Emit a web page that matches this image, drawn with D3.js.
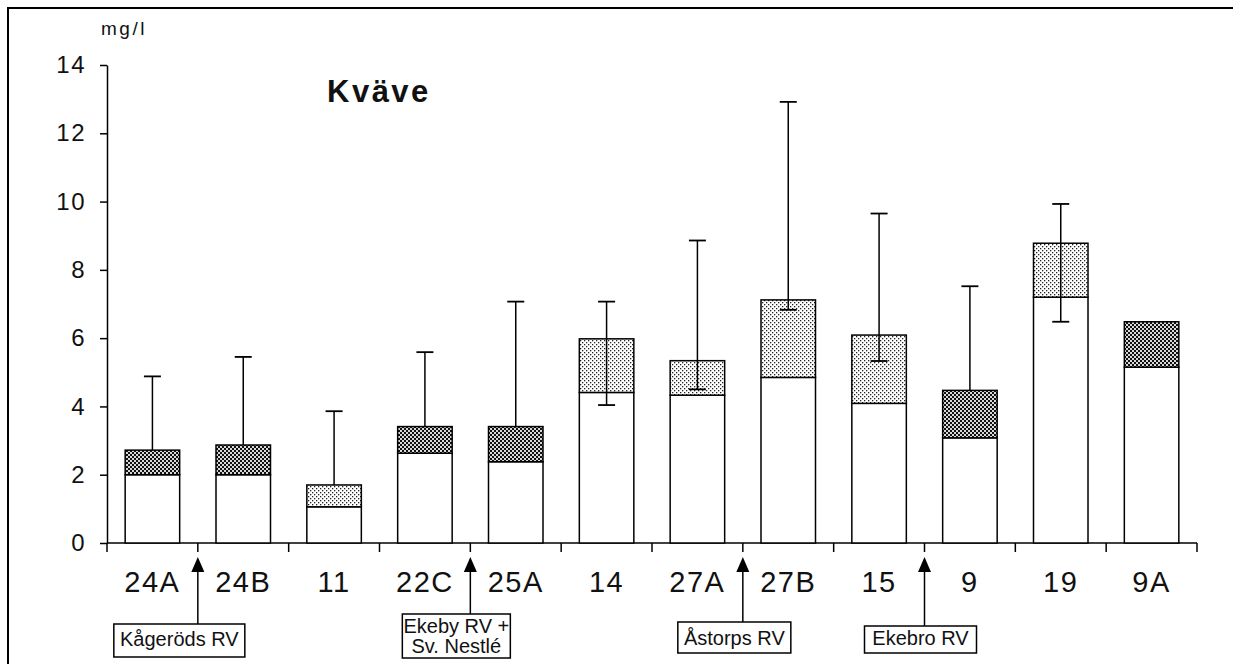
<!DOCTYPE html>
<html>
<head>
<meta charset="utf-8">
<script src="https://cdn.jsdelivr.net/npm/d3@7/dist/d3.min.js"></script>
<style>
  html, body { margin: 0; padding: 0; background: #fff; }
  svg { display: block; font-family: "Liberation Sans", Arial, Helvetica, sans-serif; }
</style>
</head>
<body>
<svg id="chart" width="1233" height="664"></svg>
<script>
// ---- data ----
const categories = ["24A", "24B", "11", "22C", "25A", "14", "27A", "27B", "15", "9", "19", "9A"];
const baseValues = [2.0, 2.0, 1.06, 2.63, 2.38, 4.41, 4.33, 4.85, 4.09, 3.08, 7.2, 5.15];
const darkValues = [0.72, 0.87, 0, 0.78, 1.03, 0, 0, 0, 0, 1.39, 0, 1.33];
const lightValues = [0, 0, 0.64, 0, 0, 1.57, 1.01, 2.27, 2.0, 0, 1.58, 0];
const errHigh = [4.88, 5.45, 3.86, 5.59, 7.07, 7.07, 8.86, 12.92, 9.65, 7.52, 9.93, null];
const errLow = [null, null, null, null, null, 4.04, 4.5, 6.83, 5.33, null, 6.48, null];
const yTicks = [0, 2, 4, 6, 8, 10, 12, 14];
const annotationLabels = ["Kågeröds RV", "Ekeby RV +\nSv. Nestlé", "Åstorps RV", "Ekebro RV"];
const annotationAfter = [0, 3, 6, 8]; // arrow sits after this category index

// ---- layout ----
const svg = d3.select("#chart");
const x = d3.scaleBand().domain(categories).range([107, 1197]).paddingInner(0.4).paddingOuter(0.2);
const y = d3.scaleLinear().domain([0, 14]).range([543, 65]);
const step = x.step();
const bw = x.bandwidth();
const boundary = i => x(categories[i]) + bw / 2 + step / 2;

// patterns
const defs = svg.append("defs");
const pl = defs.append("pattern").attr("id", "lightPat").attr("width", 4).attr("height", 4).attr("patternUnits", "userSpaceOnUse");
pl.append("rect").attr("width", 4).attr("height", 4).attr("fill", "#fff");
pl.append("rect").attr("x", 0).attr("y", 0).attr("width", 1.3).attr("height", 1.3).attr("fill", "#222");
pl.append("rect").attr("x", 2).attr("y", 2).attr("width", 1.3).attr("height", 1.3).attr("fill", "#222");
const pd = defs.append("pattern").attr("id", "darkPat").attr("width", 4).attr("height", 4).attr("patternUnits", "userSpaceOnUse");
pd.append("rect").attr("width", 4).attr("height", 4).attr("fill", "#d8d8d8");
pd.append("rect").attr("x", 0).attr("y", 0).attr("width", 2).attr("height", 2).attr("fill", "#111");
pd.append("rect").attr("x", 2).attr("y", 2).attr("width", 2).attr("height", 2).attr("fill", "#111");

// frame (left and top edges)
svg.append("path").attr("d", "M8,664 L8,8 L1233,8").attr("fill", "none").attr("stroke", "#000").attr("stroke-width", 2);

// y axis
const yAxis = d3.axisLeft(y).tickValues(yTicks).tickSize(7).tickPadding(14).tickSizeOuter(0);
const yg = svg.append("g").attr("transform", "translate(107,0)").call(yAxis);
yg.select(".domain").attr("stroke", "#000").attr("stroke-width", 1.5);
yg.selectAll(".tick line").attr("stroke", "#000").attr("stroke-width", 1.5);
yg.selectAll(".tick text").attr("font-size", 24).attr("fill", "#111").attr("letter-spacing", 1.5)
  .attr("font-family", "'Liberation Sans', Arial, sans-serif");

// x axis baseline and ticks at band boundaries
svg.append("line").attr("x1", 107).attr("x2", 1197).attr("y1", y(0)).attr("y2", y(0))
  .attr("stroke", "#000").attr("stroke-width", 1.5);
const bounds = [107].concat(categories.map((c, i) => boundary(i)));
svg.selectAll(".xtick").data(bounds).join("line").attr("class", "xtick")
  .attr("x1", d => d).attr("x2", d => d).attr("y1", y(0)).attr("y2", y(0) + 9)
  .attr("stroke", "#000").attr("stroke-width", 1.5);
svg.selectAll(".xlab").data(categories).join("text").attr("class", "xlab")
  .attr("x", d => x(d) + bw / 2).attr("y", 592).attr("text-anchor", "middle")
  .attr("font-size", 29).attr("letter-spacing", 1.5).attr("fill", "#111").text(d => d);

// bars
const data = categories.map((c, i) => ({ c, base: baseValues[i], dark: darkValues[i], light: lightValues[i], hi: errHigh[i], lo: errLow[i] }));
const bars = svg.selectAll(".bar").data(data).join("g").attr("class", "bar");
bars.append("rect").attr("x", d => x(d.c)).attr("width", bw)
  .attr("y", d => y(d.base)).attr("height", d => y(0) - y(d.base))
  .attr("fill", "#fff").attr("stroke", "#000").attr("stroke-width", 1.5);
bars.append("rect").attr("x", d => x(d.c)).attr("width", bw)
  .attr("y", d => y(d.base + d.dark + d.light)).attr("height", d => y(d.base) - y(d.base + d.dark + d.light))
  .attr("fill", d => d.dark > 0 ? "url(#darkPat)" : "url(#lightPat)")
  .attr("stroke", "#000").attr("stroke-width", 1.5);

// error bars
const eb = data.filter(d => d.hi != null);
const capW = 17;
svg.selectAll(".errline").data(eb).join("line").attr("class", "errline")
  .attr("x1", d => x(d.c) + bw / 2).attr("x2", d => x(d.c) + bw / 2)
  .attr("y1", d => y(d.hi)).attr("y2", d => y(d.lo != null ? d.lo : d.base + d.dark + d.light))
  .attr("stroke", "#000").attr("stroke-width", 1.5);
svg.selectAll(".errcapHi").data(eb).join("line").attr("class", "errcapHi")
  .attr("x1", d => x(d.c) + bw / 2 - capW / 2).attr("x2", d => x(d.c) + bw / 2 + capW / 2)
  .attr("y1", d => y(d.hi)).attr("y2", d => y(d.hi))
  .attr("stroke", "#000").attr("stroke-width", 1.8);
svg.selectAll(".errcapLo").data(eb.filter(d => d.lo != null)).join("line").attr("class", "errcapLo")
  .attr("x1", d => x(d.c) + bw / 2 - capW / 2).attr("x2", d => x(d.c) + bw / 2 + capW / 2)
  .attr("y1", d => y(d.lo)).attr("y2", d => y(d.lo))
  .attr("stroke", "#000").attr("stroke-width", 1.8);

// titles
svg.append("text").attr("x", 101).attr("y", 35).attr("font-size", 19).attr("letter-spacing", 2.5)
  .attr("fill", "#111").text("mg/l");
svg.append("text").attr("x", 327).attr("y", 102).attr("font-size", 31).attr("font-weight", "bold")
  .attr("letter-spacing", 2.5).attr("fill", "#111").text("Kväve");

// annotations
const boxLayout = [
  { dx: -84, w: 131, top: 624, h: 33, base: [646] },
  { dx: -68, w: 108, top: 614, h: 44, base: [633, 653] },
  { dx: -65, w: 113, top: 622, h: 31, base: [645] },
  { dx: -60, w: 112, top: 626, h: 27, base: [645] }
];
annotationLabels.forEach((lab, i) => {
  const ax = boundary(annotationAfter[i]);
  const L = boxLayout[i];
  const tipY = 557, headH = 15, headW = 13;
  svg.append("line").attr("x1", ax).attr("x2", ax).attr("y1", tipY + headH - 1).attr("y2", L.top)
    .attr("stroke", "#000").attr("stroke-width", 1.5);
  svg.append("path").attr("d", `M${ax},${tipY} L${ax - headW / 2},${tipY + headH} L${ax + headW / 2},${tipY + headH} Z`)
    .attr("fill", "#000");
  const bx = ax + L.dx;
  svg.append("rect").attr("x", bx).attr("y", L.top).attr("width", L.w).attr("height", L.h)
    .attr("fill", "#fff").attr("stroke", "#000").attr("stroke-width", 1.5);
  const t = svg.append("text").attr("text-anchor", "middle").attr("font-size", 20).attr("fill", "#111");
  lab.split("\n").forEach((ln, j) => {
    t.append("tspan").attr("x", bx + L.w / 2).attr("y", L.base[j]).text(ln);
  });
});
</script>
</body>
</html>
